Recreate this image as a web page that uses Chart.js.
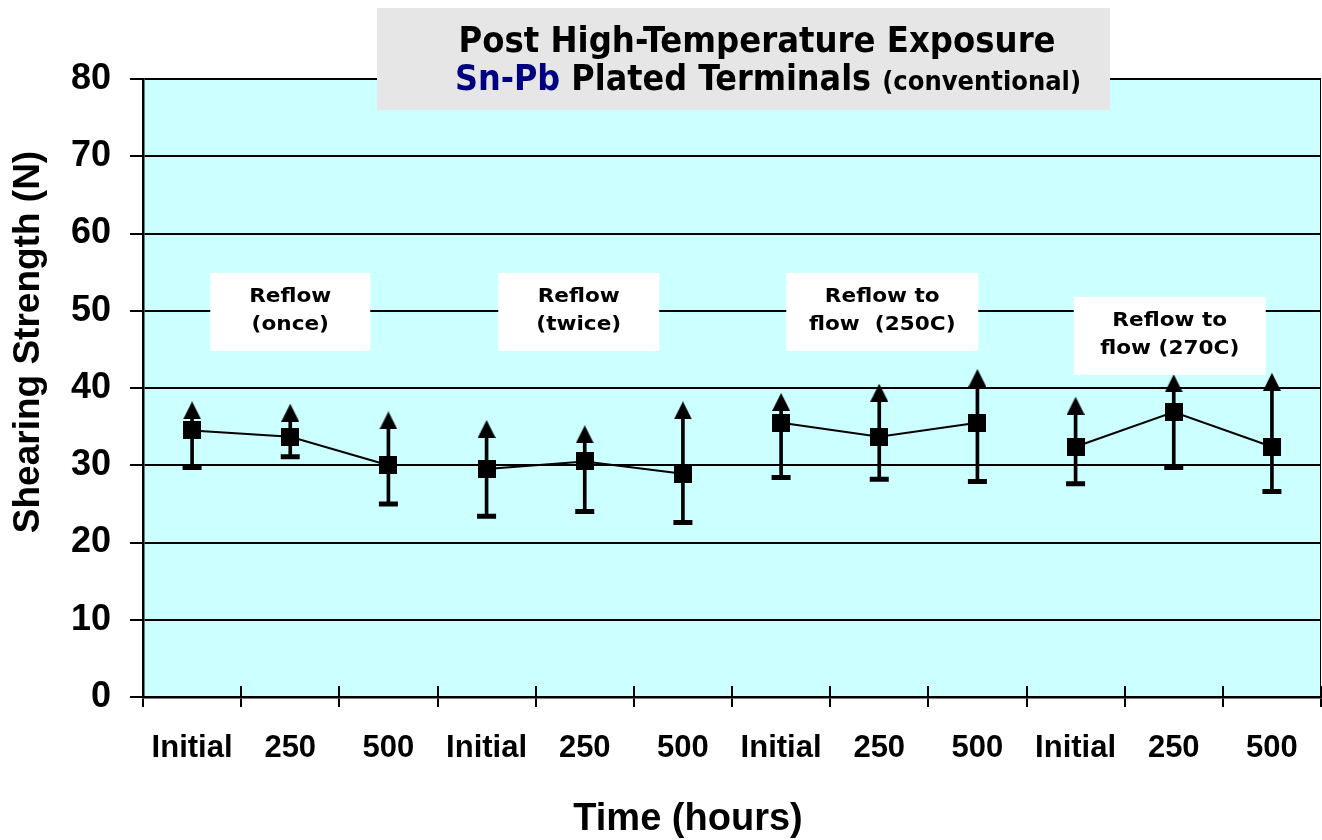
<!DOCTYPE html>
<html>
<head>
<meta charset="utf-8">
<script src="https://cdn.jsdelivr.net/npm/chart.js@4"></script>
<style>
  html, body { margin: 0; padding: 0; background: #fff; overflow: hidden; }
  #wrap { position: relative; width: 1322px; height: 840px; }
  #chart { display: block; }
</style>
</head>
<body>
<div id="wrap"><canvas id="chart"></canvas></div>
<script>
// chart values
const categories = ['Initial', '250', '500', 'Initial', '250', '500',
                    'Initial', '250', '500', 'Initial', '250', '500'];
const means = [34.5, 33.7, 30.0, 29.5, 30.5, 28.9, 35.5, 33.7, 35.5, 32.4, 36.9, 32.4];
const maxs  = [37.1, 36.8, 35.8, 34.7, 34.0, 37.1, 38.2, 39.4, 41.3, 37.7, 40.6, 40.8];
const mins  = [29.7, 31.1, 25.0, 23.4, 24.0, 22.6, 28.4, 28.2, 27.9, 27.6, 29.7, 26.6];
const yTicks = [0, 10, 20, 30, 40, 50, 60, 70, 80];
const groupNotes = [
    ['Reflow', '(once)'],
    ['Reflow', '(twice)'],
    ['Reflow to', 'flow  (250C)'],
    ['Reflow to', 'flow (270C)']
];

// marker images
function makeMarker(kind) {
    const c = document.createElement('canvas');
    c.width = 18; c.height = 18;
    const g = c.getContext('2d');
    g.fillStyle = '#000';
    if (kind === 'tri') {
        g.beginPath();
        g.moveTo(9, 0); g.lineTo(18, 18); g.lineTo(0, 18);
        g.closePath(); g.fill();
    } else {
        g.fillRect(0, 0, 18, 18);
    }
    return c;
}
const triMarker = makeMarker('tri');
const sqMarker = makeMarker('sq');

// background of the plot area + cross part of the x ticks
const plotBg = {
    id: 'plotBg',
    beforeDraw(chart) {
        const { ctx, chartArea: a } = chart;
        ctx.save();
        ctx.fillStyle = '#CCFFFF';
        ctx.fillRect(a.left, a.top, a.right - a.left, a.bottom - a.top);
        ctx.strokeStyle = '#000';
        ctx.lineWidth = 1;
        ctx.beginPath();
        ctx.moveTo(a.right - 0.5, a.top); ctx.lineTo(a.right - 0.5, a.bottom);
        ctx.stroke();
        ctx.restore();
    },
    afterDatasetsDraw(chart) {
        const { ctx, chartArea: a } = chart;
        const n = categories.length;
        ctx.save();
        ctx.strokeStyle = '#000';
        ctx.lineWidth = 2;
        for (let i = 0; i <= n; i++) {
            const px = Math.round(a.left + i * (a.right - a.left) / n);
            ctx.beginPath();
            ctx.moveTo(px, a.bottom - 11); ctx.lineTo(px, a.bottom);
            ctx.stroke();
        }
        ctx.restore();
    }
};

// title box, group notes, axis titles
const extras = {
    id: 'extras',
    afterDraw(chart) {
        const { ctx } = chart;
        const x = chart.scales.x, y = chart.scales.y;
        ctx.save();

        // title
        ctx.fillStyle = '#E6E6E6';
        ctx.fillRect(377, 8, 733, 102);
        const tf = '"DejaVu Sans Condensed", "DejaVu Sans", sans-serif';
        ctx.textBaseline = 'alphabetic';
        ctx.textAlign = 'center';
        ctx.fillStyle = '#000';
        ctx.font = 'bold 36px ' + tf;
        ctx.fillText('Post High-Temperature Exposure', 757, 52);
        const parts = [
            ['Sn-Pb', '#000080', 'bold 35.5px ' + tf],
            [' Plated Terminals ', '#000', 'bold 35.5px ' + tf],
            ['(conventional)', '#000', 'bold 27px ' + tf]
        ];
        let total = 0;
        parts.forEach(p => { ctx.font = p[2]; total += ctx.measureText(p[0]).width; });
        let cx = 768 - total / 2;
        ctx.textAlign = 'left';
        parts.forEach(p => {
            ctx.font = p[2];
            ctx.fillStyle = p[1];
            ctx.fillText(p[0], cx, 90);
            cx += ctx.measureText(p[0]).width;
        });

        // notes above each group
        const boxes = [
            { i: 1, dx: 0, w: 160, top: 54.9, bot: 44.8 },
            { i: 4, dx: -6, w: 161, top: 54.9, bot: 44.8 },
            { i: 7, dx: 3, w: 192, top: 54.9, bot: 44.8 },
            { i: 10, dx: -4, w: 192, top: 51.8, bot: 41.7 }
        ];
        boxes.forEach((b, k) => {
            const mx = x.getPixelForValue(b.i) + b.dx;
            const t = y.getPixelForValue(b.top), bt = y.getPixelForValue(b.bot);
            ctx.fillStyle = '#fff';
            ctx.fillRect(mx - b.w / 2, t, b.w, bt - t);
            ctx.fillStyle = '#000';
            ctx.font = 'bold 20px "DejaVu Sans", Verdana, sans-serif';
            ctx.textAlign = 'center';
            ctx.textBaseline = 'middle';
            groupNotes[k].forEach((line, j) => {
                ctx.save();
                ctx.translate(mx, t + 24 + j * 28);
                ctx.scale(1.08, 1);
                ctx.fillText(line, 0, 0);
                ctx.restore();
            });
        });

        // axis titles
        ctx.fillStyle = '#000';
        ctx.textAlign = 'center';
        ctx.textBaseline = 'alphabetic';
        ctx.font = 'bold 38px "Liberation Sans", Arial, sans-serif';
        ctx.fillText('Time (hours)', 688, 830);
        ctx.save();
        ctx.translate(39, 342);
        ctx.rotate(-Math.PI / 2);
        ctx.font = 'bold 37px "Liberation Sans", Arial, sans-serif';
        ctx.fillText('Shearing Strength (N)', 0, 0);
        ctx.restore();

        ctx.restore();
    }
};

new Chart(document.getElementById('chart'), {
    type: 'bar',
    data: {
        labels: categories,
        datasets: [
            {
                label: 'Mean',
                type: 'line',
                data: means,
                borderColor: '#000',
                borderWidth: 2,
                pointStyle: sqMarker,
                tension: 0,
                segment: {
                    borderColor: ctx => (ctx.p0DataIndex % 3 === 2 ? 'rgba(0,0,0,0)' : '#000')
                },
                order: 1
            },
            {
                label: 'Max',
                type: 'line',
                data: maxs,
                showLine: false,
                pointStyle: triMarker,
                order: 2
            },
            {
                label: 'Min',
                type: 'line',
                data: mins,
                showLine: false,
                pointStyle: 'line',
                pointRadius: 9.5,
                pointBorderWidth: 5,
                pointBorderColor: '#000',
                order: 2
            },
            {
                label: 'Range',
                type: 'bar',
                data: mins.map((v, i) => [v, maxs[i]]),
                backgroundColor: '#000',
                barThickness: 3,
                order: 3
            }
        ]
    },
    options: {
        responsive: true,
        maintainAspectRatio: false,
        animation: false,
        layout: { autoPadding: false, padding: { top: 79, right: 1, left: 0, bottom: 0 } },
        plugins: {
            legend: { display: false },
            tooltip: { enabled: false }
        },
        scales: {
            x: {
                offset: true,
                afterFit(scale) {
                    scale.height = 143;
                    scale.paddingLeft = 0;
                    scale.paddingRight = 0;
                },
                grid: {
                    display: true,
                    drawOnChartArea: false,
                    color: '#000',
                    lineWidth: 2,
                    tickLength: 10,
                    offset: true
                },
                border: { display: true, color: '#000', width: 2.5 },
                ticks: {
                    color: '#000',
                    padding: 23,
                    maxRotation: 0,
                    autoSkip: false,
                    font: { family: '"Liberation Sans", Arial, sans-serif', size: 31, weight: 'bold' }
                }
            },
            y: {
                min: 0,
                max: 80,
                afterFit(scale) { scale.width = 143; },
                afterBuildTicks(scale) { scale.ticks = yTicks.map(v => ({ value: v })); },
                grid: {
                    color: '#000',
                    lineWidth: 2,
                    tickLength: 13
                },
                border: { display: true, color: '#000', width: 2.5 },
                ticks: {
                    color: '#000',
                    padding: 19,
                    font: { family: '"Liberation Sans", Arial, sans-serif', size: 36, weight: 'bold' }
                }
            }
        }
    },
    plugins: [plotBg, extras]
});
</script>
</body>
</html>
